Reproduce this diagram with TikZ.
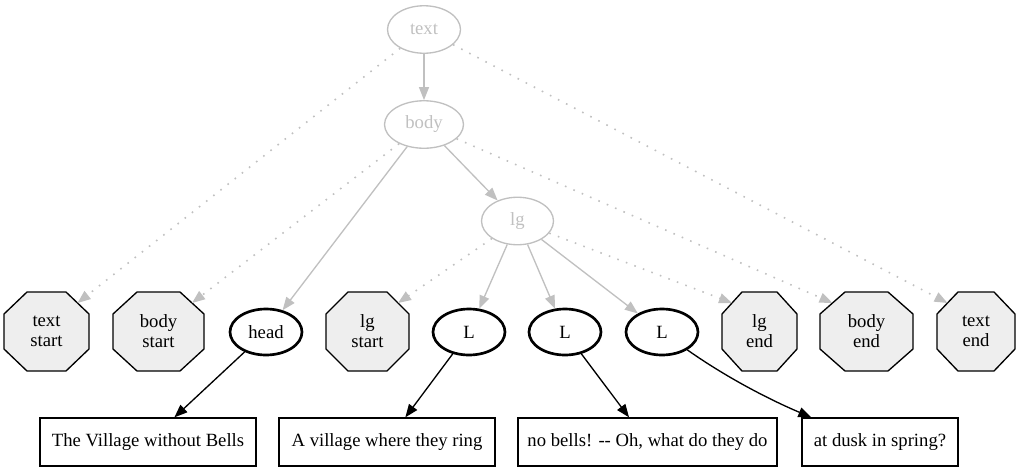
\documentclass[tikz,border=0pt]{standalone}
\usepackage{fontspec}
\setmainfont{Liberation Serif}
\usetikzlibrary{arrows.meta,shapes.geometric,backgrounds}
\definecolor{gvgray}{HTML}{C0C0C0}
\definecolor{octfill}{HTML}{EEEEEE}
\newcommand\octpath[2]{%
  \draw[octline] ([xshift=#2]#1.north west) -- ([xshift=-#2]#1.north east)
    -- ([yshift=-22pt]#1.north east) -- ([yshift=22pt]#1.south east)
    -- ([xshift=-#2]#1.south east) -- ([xshift=#2]#1.south west)
    -- ([yshift=22pt]#1.south west) -- ([yshift=-22pt]#1.north west) -- cycle;}
\begin{document}
\begin{tikzpicture}[x=1pt,y=-1pt,
  font=\fontsize{18.67}{20}\selectfont,
  grayell/.style={ellipse, draw=gvgray, text=gvgray, line width=1.33pt, inner sep=0pt, minimum height=47.5pt},
  boldell/.style={ellipse, draw=black, line width=2.67pt, inner sep=0pt, minimum width=72pt, minimum height=46pt},
  octo/.style={rectangle, draw=none, inner sep=0pt, outer sep=0pt, minimum height=79pt, align=center},
  octline/.style={draw=black, fill=octfill, line width=1.33pt, line join=miter},
  leaf/.style={rectangle, draw=black, line width=1.33pt, inner sep=0pt, minimum height=48pt},
  tip/.style={-{Triangle[length=13pt,width=10pt]}},
  grayedge/.style={tip, draw=gvgray, line width=1.33pt},
  dotedge/.style={tip, draw=gvgray, line width=1.6pt, dash pattern=on 1.6pt off 7.5pt},
  blkedge/.style={tip, draw=black, line width=1.33pt}]
\useasboundingbox (0,0) rectangle (1017,472);
% upper nodes
\node[grayell, minimum width=73pt] (text) at (424,29.5) {text};
\node[grayell, minimum width=79pt] (body) at (424,124.5) {body};
\node[grayell, minimum width=72pt] (lg) at (517.5,221) {lg};
% middle row
\node[octo, minimum width=85pt] (ts) at (46.5,331.5) {text\\start};
\node[octo, minimum width=91pt] (bs) at (158.5,331.5) {body\\start};
\node[boldell] (head) at (266,332) {head};
\node[octo, minimum width=83pt] (lgs) at (367.5,331.5) {lg\\start};
\node[boldell] (L1) at (469,332) {L};
\node[boldell] (L2) at (565,332) {L};
\node[boldell] (L3) at (662,332) {L};
\node[octo, minimum width=75pt] (lge) at (759.5,331.5) {lg\\end};
\node[octo, minimum width=93pt] (be) at (866.5,331.5) {body\\end};
\node[octo, minimum width=78pt] (te) at (976,331.5) {text\\end};
% leaves
\node[leaf, minimum width=216pt] (b1) at (148,442) {The Village without Bells};
\node[leaf, minimum width=216pt] (b2) at (387,442) {A village where they ring};
\node[leaf, minimum width=259pt] (b3) at (647.5,442) {no bells! -{}- Oh, what do they do};
\node[leaf, minimum width=156pt] (b4) at (880,442) {at dusk in spring?};
\begin{pgfonlayer}{background}
\octpath{ts}{23pt}
\octpath{bs}{24pt}
\octpath{lgs}{22pt}
\octpath{lge}{20pt}
\octpath{be}{25pt}
\octpath{te}{21pt}
\end{pgfonlayer}
% solid gray edges
\draw[grayedge] (text) -- (body);
\draw[grayedge] (body) -- (head);
\draw[grayedge] (body) -- (lg);
\draw[grayedge] (lg) -- (L1);
\draw[grayedge] (lg) -- (L2);
\draw[grayedge] (lg) -- (L3);
% dotted edges
\draw[dotedge] (text) -- ([shift={(-11.5pt,-11pt)}]ts.north east);
\draw[dotedge] (text) -- ([shift={(10.5pt,-11pt)}]te.north west);
\draw[dotedge] (body) -- ([shift={(-12pt,-11pt)}]bs.north east);
\draw[dotedge] (body) -- ([shift={(12.5pt,-11pt)}]be.north west);
\draw[dotedge] (lg) -- ([shift={(-11pt,-11pt)}]lgs.north east);
\draw[dotedge] (lg) -- ([shift={(10pt,-11pt)}]lge.north west);
% black edges
\draw[blkedge] (head) -- (b1);
\draw[blkedge] (L1) -- (b2);
\draw[blkedge] (L2) -- (b3);
\draw[blkedge] (L3) .. controls (730,380) and (775,402) .. ([xshift=10pt]b4.north west);
\end{tikzpicture}
\end{document}
